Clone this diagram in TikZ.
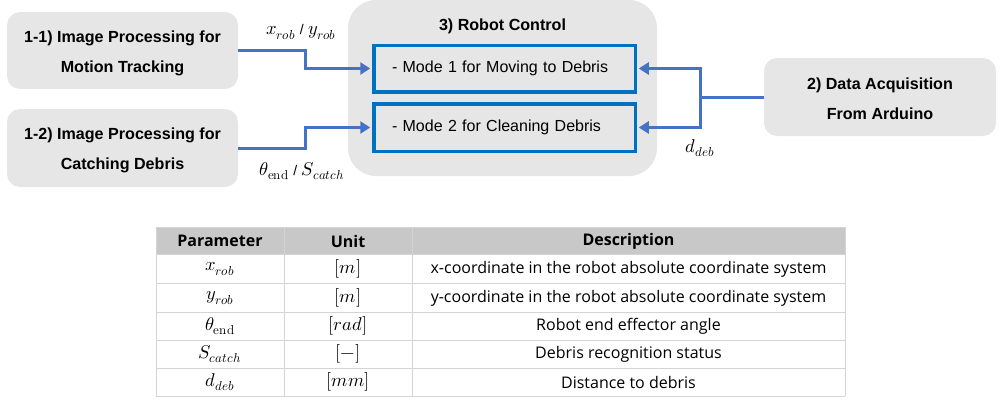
\documentclass[tikz,border=0pt]{standalone}
\usepackage{fontspec}
\usepackage{unicode-math}
\setmainfont{Liberation Sans}
\setmathfont{Latin Modern Math}
\newfontfamily\tabfont{Open Sans}
\usetikzlibrary{arrows.meta,positioning}
\definecolor{boxgray}{HTML}{E6E6E6}
\definecolor{modeblue}{HTML}{0070C0}
\definecolor{arrblue}{HTML}{4472C4}
\definecolor{headgray}{HTML}{C8C8C8}
\definecolor{gridgray}{HTML}{D4D4D4}
\tikzset{
  procbox/.style={fill=boxgray, draw=none, rounded corners=13pt, align=center,
    font=\fontsize{16.1}{30}\selectfont\bfseries, inner sep=0pt},
  modebox/.style={draw=modeblue, line width=3.5pt, inner sep=0pt, text width=245pt, align=left,
    font=\fontsize{16}{19}\selectfont},
  flow/.style={draw=arrblue, line width=3pt, -{Triangle[length=10pt,width=12pt]}},
  flowline/.style={draw=arrblue, line width=3pt},
  lbl/.style={font=\fontsize{18.5}{20}\selectfont, inner sep=0pt},
  cell/.style={font=\tabfont\fontsize{16}{18}\selectfont, inner sep=0pt},
  mcell/.style={font=\fontsize{18.5}{20}\selectfont, inner sep=0pt},
  hcell/.style={font=\tabfont\fontsize{16}{18}\selectfont\bfseries, inner sep=0pt},
}
\newcommand{\slashtxt}{{\fontsize{14}{16}\selectfont\hspace{4.5pt}/\hspace{4.5pt}}}
\begin{document}
\begin{tikzpicture}[x=1pt,y=-1pt]
\useasboundingbox (0,0) rectangle (1005,407);
% boxes
\node[procbox, minimum width=231pt, minimum height=77pt] (b11) at (122.5,50.5) {\rule{0pt}{17pt}1-1) Image Processing for\\Motion Tracking};
\node[procbox, minimum width=231pt, minimum height=78pt] (b12) at (122.5,148) {\rule{0pt}{17pt}1-2) Image Processing for\\Catching Debris};
\node[fill=boxgray, rounded corners=28pt, minimum width=309pt, minimum height=176pt, inner sep=0pt] (rc) at (502.5,88) {};
\node[font=\fontsize{16.1}{18}\selectfont\bfseries, inner sep=0pt] (rct) at (502.5,26) {3) Robot Control};
\node[modebox, minimum width=261.5pt, minimum height=46.5pt] (m1) at (504.5,68.5) {\hspace*{10pt}- Mode 1 for Moving to Debris};
\node[modebox, minimum width=261.5pt, minimum height=47.5pt] (m2) at (504.5,127.5) {\hspace*{10pt}- Mode 2 for Cleaning Debris};
\node[procbox, minimum width=232pt, minimum height=78pt] (b2) at (880,97) {\rule{0pt}{15pt}2) Data Acquisition\\From Arduino};
% connectors
\draw[flow] (b11.east) -- (305,50.5) |- ([xshift=-1.75pt]m1.west);
\draw[flow] (b12.east) -- (305,148) |- ([xshift=-1.75pt]m2.west);
\coordinate (jn) at (700,97);
\draw[flowline] (b2.west) -- (jn);
\draw[flow] ([yshift=-1.5pt]jn) |- ([xshift=1.75pt]m1.east);
\draw[flow] ([yshift=1.5pt]jn) |- ([xshift=1.75pt]m2.east);
% labels
\node[lbl] (l1) at (301,32) {$x_{rob}$\slashtxt$y_{rob}$};
\node[lbl] (l2) at (302,171) {$\theta_{\symup{end}}$\slashtxt$S_{catch}$};
\node[lbl] (l3) at (700,148) {$d_{deb}$};
% table
\fill[headgray] (156,227) rectangle (845,254);
\foreach \yy in {254,283,312,340,368,396} \draw[gridgray, line width=1pt] (156,\yy) -- (845,\yy);
\draw[gridgray, line width=1pt] (156,227) -- (845,227);
\foreach \xx in {156,284,412,845} \draw[gridgray, line width=1pt] (\xx,227) -- (\xx,396);
\node[hcell] (h1) at (220,241) {Parameter};
\node[hcell] (h2) at (348,241) {Unit};
\node[hcell] (h3) at (628.5,241) {Description};
\node[mcell] (p1) at (220,269) {$x_{rob}$};
\node[mcell] (u1) at (348,269) {$[m]$};
\node[cell] (d1) at (628.5,269) {x-coordinate in the robot absolute coordinate system};
\node[mcell] (p2) at (220,298) {$y_{rob}$};
\node[mcell] (u2) at (348,298) {$[m]$};
\node[cell] (d2) at (628.5,298) {y-coordinate in the robot absolute coordinate system};
\node[mcell] (p3) at (220,326) {$\theta_{\symup{end}}$};
\node[mcell] (u3) at (348,326) {$[rad]$};
\node[cell] (d3) at (628.5,326) {Robot end effector angle};
\node[mcell] (p4) at (220,354) {$S_{catch}$};
\node[mcell] (u4) at (348,354) {$[-]$};
\node[cell] (d4) at (628.5,354) {Debris recognition status};
\node[mcell] (p5) at (220,382) {$d_{deb}$};
\node[mcell] (u5) at (348,382) {$[mm]$};
\node[cell] (d5) at (628.5,382) {Distance to debris};
\end{tikzpicture}
\end{document}
